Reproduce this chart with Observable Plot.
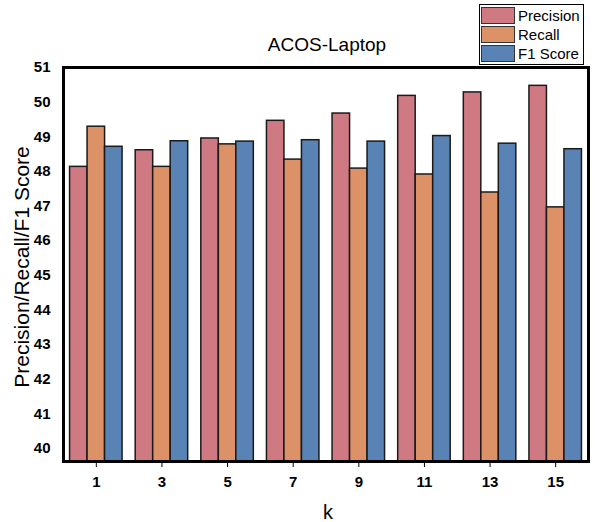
<!DOCTYPE html>
<html>
<head>
<meta charset="utf-8">
<script src="https://cdn.jsdelivr.net/npm/d3@7"></script>
<script src="https://cdn.jsdelivr.net/npm/@observablehq/plot@0.6"></script>
<style>
  body { margin: 0; background: #fff; font-family: "Liberation Sans", Arial, sans-serif; }
  #wrap { position: relative; width: 595px; height: 522px; }
  .abs { position: absolute; white-space: nowrap; color: #000; }
  #title { left: 327px; top: 45px; transform: translate(-50%, -50%); font-size: 19px; }
  #ylab { left: 22px; top: 267px; transform: translate(-50%, -50%) rotate(-90deg); font-size: 21px; }
  #xlab { left: 328px; top: 512px; transform: translate(-50%, -50%); font-size: 20px; }
  #legend { left: 479px; top: 4px; border: 1px solid #000; padding: 1px 3px 1px 1px; background: #fff; }
  .row { display: flex; align-items: center; height: 19px; font-size: 15px; }
  .sw { width: 34px; height: 17px; border: 1px solid #333; box-sizing: border-box; margin-right: 3px; }
</style>
</head>
<body>
<div id="wrap">
  <div id="plot"></div>
  <div id="title" class="abs">ACOS-Laptop</div>
  <div id="ylab" class="abs">Precision/Recall/F1 Score</div>
  <div id="xlab" class="abs">k</div>
  <div id="legend" class="abs"></div>
</div>
<script>
const kValues = ["1", "3", "5", "7", "9", "11", "13", "15"];
const metrics = ["Precision", "Recall", "F1 Score"];
const colors = ["#cf7a83", "#dc9167", "#5a83b5"];
const precision = [48.13, 48.61, 48.95, 49.46, 49.67, 50.18, 50.28, 50.47];
const recall    = [49.29, 48.13, 48.78, 48.34, 48.08, 47.91, 47.39, 46.96];
const f1        = [48.71, 48.87, 48.86, 48.90, 48.86, 49.02, 48.80, 48.64];
const yTicks = [40, 41, 42, 43, 44, 45, 46, 47, 48, 49, 50, 51];
const yDomain = [39.62, 51];

const series = [precision, recall, f1];
const rows = [];
kValues.forEach((k, i) => {
  metrics.forEach((m, j) => rows.push({k, metric: m, value: series[j][i]}));
});

const chart = Plot.plot({
  width: 595,
  height: 522,
  marginLeft: 63,
  marginRight: 7,
  marginTop: 67,
  marginBottom: 61,
  style: {fontFamily: "'Liberation Sans', Arial, sans-serif", color: "#000", background: "#fff"},
  fx: {domain: kValues, padding: 0, round: false, label: null},
  x: {domain: metrics, paddingInner: 0, paddingOuter: 0.375, round: false, axis: null},
  y: {domain: yDomain, label: null},
  color: {domain: metrics, range: colors},
  marks: [
    Plot.barY(rows, {fx: "k", x: "metric", y: "value", fill: "metric", stroke: "#1a1a1a", strokeWidth: 1.5, clip: true}),
    Plot.axisY({ticks: yTicks, tickSize: 0, tickPadding: 13, fontSize: 15, fontWeight: "bold", label: null}),
    Plot.axisFx({anchor: "bottom", tickSize: 6, tickPadding: 9, fontSize: 15, fontWeight: "bold", label: null}),
    Plot.frame({facet: "super", stroke: "#000", strokeWidth: 3})
  ]
});
document.getElementById("plot").appendChild(chart);

const legend = document.getElementById("legend");
metrics.forEach((m, j) => {
  const row = document.createElement("div");
  row.className = "row";
  const sw = document.createElement("div");
  sw.className = "sw";
  sw.style.background = colors[j];
  row.appendChild(sw);
  const t = document.createElement("span");
  t.textContent = m;
  row.appendChild(t);
  legend.appendChild(row);
});
</script>
</body>
</html>
